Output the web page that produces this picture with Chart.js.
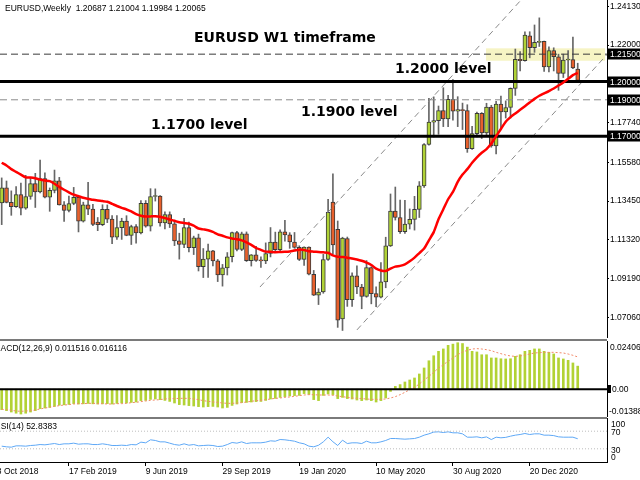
<!DOCTYPE html>
<html>
<head>
<meta charset="utf-8">
<title>EURUSD W1</title>
<script src="https://cdn.jsdelivr.net/npm/chart.js@4.4.1/dist/chart.umd.min.js"></script>
<style>
  html, body { margin: 0; padding: 0; background: #fff; }
  #wrap { position: relative; width: 640px; height: 480px; overflow: hidden; }
  #wrap canvas { position: absolute; left: 0; }
  #c-main { top: 0; }
  #c-macd { top: 341px; }
  #c-rsi  { top: 418px; }
  .sep { position: absolute; left: 0; width: 607px; height: 2px; background: #7a7a7a; }
</style>
</head>
<body>
<div id="wrap">
  <canvas id="c-main" width="640" height="338"></canvas>
  <canvas id="c-macd" width="640" height="76"></canvas>
  <canvas id="c-rsi" width="640" height="62"></canvas>
  <div class="sep" style="top:339px"></div>
  <div class="sep" style="top:417px"></div>
</div>
<script>
'use strict';

// ── Weekly candles, 11 Nov 2018 .. 28 Feb 2021 (bar index 0..120) ──
const OPEN = [
  1.1335, 1.1417, 1.1338, 1.1314, 1.1380, 1.1306, 1.1370, 1.1441, 1.1395, 1.1468,
  1.1366, 1.1404, 1.1456, 1.1324, 1.1294, 1.1332, 1.1365, 1.1235, 1.1325, 1.1301,
  1.1230, 1.1216, 1.1300, 1.1246, 1.1147, 1.1200, 1.1235, 1.1157, 1.1205, 1.1170,
  1.1333, 1.1208, 1.1370, 1.1372, 1.1225, 1.1271, 1.1220, 1.1127, 1.1108, 1.1200,
  1.1090, 1.1143, 1.0985, 1.1027, 1.1073, 1.1017, 1.0940, 1.0979, 1.1040, 1.1172,
  1.1080, 1.1165, 1.1018, 1.1051, 1.1020, 1.1017, 1.1058, 1.1121, 1.1079, 1.1176,
  1.1160, 1.1121, 1.1091, 1.1025, 1.1093, 1.0944, 1.0830, 1.0847, 1.1025, 1.1340,
  1.1190, 1.0700, 1.1140, 1.0805, 1.0935, 1.0874, 1.0822, 1.0980, 1.0838, 1.0818,
  1.0902, 1.1100, 1.1290, 1.1255, 1.1177, 1.1219, 1.1245, 1.1300, 1.1428, 1.1655,
  1.1778, 1.1786, 1.1841, 1.1795, 1.1903, 1.1838, 1.1846, 1.1841, 1.1632, 1.1715,
  1.1826, 1.1718, 1.1860, 1.1647, 1.1876, 1.1834, 1.1858, 1.1963, 1.2122, 1.2114,
  1.2250, 1.2185, 1.2215, 1.2220, 1.2080, 1.2170, 1.2136, 1.2045, 1.2118, 1.2120,
  1.20687
];
const HIGH = [
  1.1472, 1.1455, 1.1401, 1.1425, 1.1443, 1.1486, 1.1474, 1.1497, 1.1570, 1.1500,
  1.1417, 1.1515, 1.1475, 1.1342, 1.1372, 1.1420, 1.1375, 1.1339, 1.1448, 1.1327,
  1.1255, 1.1325, 1.1324, 1.1265, 1.1265, 1.1251, 1.1265, 1.1213, 1.1216, 1.1348,
  1.1348, 1.1413, 1.1412, 1.1375, 1.1286, 1.1286, 1.1240, 1.1169, 1.1250, 1.1230,
  1.1153, 1.1164, 1.1085, 1.1109, 1.1075, 1.1025, 1.0998, 1.1063, 1.1175, 1.1179,
  1.1175, 1.1176, 1.1052, 1.1097, 1.1039, 1.1116, 1.1200, 1.1175, 1.1188, 1.1239,
  1.1172, 1.1173, 1.1100, 1.1095, 1.1095, 1.0965, 1.0865, 1.1053, 1.1354, 1.1495,
  1.1236, 1.1147, 1.1148, 1.0952, 1.0990, 1.0889, 1.1019, 1.0985, 1.0875, 1.1008,
  1.1147, 1.1384, 1.1422, 1.1350, 1.1349, 1.1302, 1.1371, 1.1452, 1.1660, 1.1908,
  1.1916, 1.1866, 1.1966, 1.1925, 1.2011, 1.1917, 1.1882, 1.1873, 1.1755, 1.1832,
  1.1830, 1.1881, 1.1870, 1.1891, 1.1920, 1.1894, 1.1965, 1.2178, 1.2164, 1.2273,
  1.2273, 1.2310, 1.2349, 1.2222, 1.2190, 1.2185, 1.2150, 1.2150, 1.2170, 1.2243,
  1.21004
];
const LOW = [
  1.1216, 1.1335, 1.1267, 1.1310, 1.1269, 1.1300, 1.1355, 1.1310, 1.1390, 1.1362,
  1.1289, 1.1390, 1.1323, 1.1234, 1.1285, 1.1325, 1.1176, 1.1230, 1.1270, 1.1210,
  1.1183, 1.1210, 1.1227, 1.1111, 1.1135, 1.1135, 1.1155, 1.1107, 1.1115, 1.1165,
  1.1202, 1.1181, 1.1345, 1.1207, 1.1193, 1.1200, 1.1101, 1.1027, 1.1090, 1.1066,
  1.1052, 1.0962, 1.0926, 1.0927, 1.0990, 1.0904, 1.0879, 1.0940, 1.1012, 1.1072,
  1.1073, 1.1014, 1.0989, 1.1014, 1.0981, 1.1002, 1.1039, 1.1065, 1.1066, 1.1125,
  1.1086, 1.1087, 1.1019, 1.0992, 1.0941, 1.0827, 1.0778, 1.0840, 1.1020, 1.1055,
  1.0653, 1.0636, 1.0768, 1.0768, 1.0838, 1.0755, 1.0818, 1.0782, 1.0766, 1.0814,
  1.0870, 1.1096, 1.1241, 1.1168, 1.1168, 1.1192, 1.1186, 1.1255, 1.1420, 1.1652,
  1.1696, 1.1711, 1.1753, 1.1753, 1.1789, 1.1753, 1.1737, 1.1612, 1.1628, 1.1696,
  1.1688, 1.1703, 1.1640, 1.1603, 1.1745, 1.1800, 1.1800, 1.1924, 1.2058, 1.2112,
  1.2130, 1.2160, 1.2192, 1.2055, 1.2053, 1.2058, 1.1952, 1.2022, 1.2023, 1.2070,
  1.19984
];
const CLOSE = [
  1.1417, 1.1338, 1.1314, 1.1380, 1.1306, 1.1370, 1.1441, 1.1395, 1.1468, 1.1366,
  1.1404, 1.1456, 1.1324, 1.1294, 1.1332, 1.1365, 1.1235, 1.1325, 1.1301, 1.1217,
  1.1216, 1.1300, 1.1246, 1.1147, 1.1200, 1.1235, 1.1157, 1.1205, 1.1170, 1.1333,
  1.1208, 1.1370, 1.1372, 1.1225, 1.1271, 1.1220, 1.1127, 1.1108, 1.1200, 1.1090,
  1.1143, 1.0985, 1.1027, 1.1073, 1.1017, 1.0940, 1.0979, 1.1040, 1.1172, 1.1080,
  1.1165, 1.1018, 1.1051, 1.1020, 1.1017, 1.1058, 1.1121, 1.1079, 1.1176, 1.1160,
  1.1121, 1.1091, 1.1025, 1.1093, 1.0944, 1.0830, 1.0847, 1.1025, 1.1284, 1.1105,
  1.0692, 1.1142, 1.0805, 1.0935, 1.0874, 1.0822, 1.0980, 1.0838, 1.0818, 1.0902,
  1.1100, 1.1290, 1.1255, 1.1177, 1.1219, 1.1245, 1.1300, 1.1428, 1.1655, 1.1778,
  1.1786, 1.1841, 1.1795, 1.1903, 1.1838, 1.1846, 1.1841, 1.1632, 1.1715, 1.1826,
  1.1718, 1.1860, 1.1647, 1.1876, 1.1834, 1.1858, 1.1963, 1.2122, 1.2114, 1.2255,
  1.2185, 1.2215, 1.2220, 1.2080, 1.2170, 1.2136, 1.2045, 1.2118, 1.2120, 1.2075,
  1.20065
];
// red moving average
const MA = [
  1.1555, 1.1540, 1.1520, 1.1505, 1.1490, 1.1475, 1.1474, 1.1470, 1.1463, 1.1458,
  1.1454, 1.1440, 1.1423, 1.1407, 1.1393, 1.1380, 1.1372, 1.1363, 1.1358, 1.1352,
  1.1348, 1.1345, 1.1341, 1.1330, 1.1318, 1.1308, 1.1299, 1.1288, 1.1273, 1.1265,
  1.1260, 1.1261, 1.1262, 1.1259, 1.1252, 1.1244, 1.1237, 1.1229, 1.1225, 1.1221,
  1.1210, 1.1195, 1.1190, 1.1185, 1.1176, 1.1163, 1.1155, 1.1146, 1.1140, 1.1136,
  1.1130, 1.1119, 1.1105, 1.1088, 1.1078, 1.1068, 1.1067, 1.1065, 1.1066, 1.1067,
  1.1069, 1.1074, 1.1079, 1.1077, 1.1070, 1.1068, 1.1066, 1.1064, 1.1062, 1.1047,
  1.1040, 1.1038, 1.1035, 1.1030, 1.1025, 1.1018, 1.1008, 1.0995, 1.0975, 1.0965,
  1.0962, 1.0975, 1.0986, 1.0990, 1.0998, 1.1015, 1.1035, 1.1060, 1.1085, 1.1130,
  1.1175, 1.1245, 1.1300, 1.1355, 1.1395, 1.1450, 1.1490, 1.1520, 1.1555, 1.1585,
  1.1610, 1.1630, 1.1660, 1.1700, 1.1740, 1.1780, 1.1805, 1.1825, 1.1845, 1.1865,
  1.1885, 1.1905, 1.1922, 1.1935, 1.1948, 1.1962, 1.1978, 1.1995, 1.2015, 1.2035,
  1.2048
];

// ── MACD(12,26,9) panel ─────
const MACD = [
  -0.0102, -0.0107, -0.0114, -0.0120, -0.0124, -0.0120, -0.0114, -0.0107, -0.0097, -0.0094,
  -0.0091, -0.0086, -0.0080, -0.0078, -0.0076, -0.0072, -0.0074, -0.0073, -0.0071, -0.0073,
  -0.0074, -0.0073, -0.0072, -0.0074, -0.0071, -0.0069, -0.0069, -0.0066, -0.0064, -0.0057,
  -0.0056, -0.0051, -0.0049, -0.0052, -0.0056, -0.0061, -0.0069, -0.0077, -0.0079, -0.0082,
  -0.0084, -0.0087, -0.0089, -0.0087, -0.0086, -0.0089, -0.0094, -0.0091, -0.0081, -0.0074,
  -0.0067, -0.0066, -0.0064, -0.0062, -0.0061, -0.0056, -0.0049, -0.0046, -0.0041, -0.0037,
  -0.0034, -0.0032, -0.0031, -0.0022, -0.0026, -0.0052, -0.0057, -0.0031, -0.0024, -0.0027,
  -0.0047, -0.0041, -0.0047, -0.0049, -0.0054, -0.0057, -0.0054, -0.0057, -0.0064, -0.0057,
  -0.0044, -0.0011, 0.0014, 0.0023, 0.0036, 0.0046, 0.0056, 0.0076, 0.0106, 0.0142,
  0.0167, 0.0189, 0.0201, 0.0219, 0.0225, 0.0232, 0.0228, 0.0210, 0.0189, 0.0186,
  0.0172, 0.0172, 0.0156, 0.0156, 0.0152, 0.0151, 0.0152, 0.0164, 0.0172, 0.0189,
  0.0194, 0.0201, 0.0201, 0.0189, 0.0184, 0.0176, 0.0156, 0.0151, 0.0144, 0.0131,
  0.011516
];
const SIGNAL = [
  -0.01005, -0.01022, -0.01055, -0.01088, -0.01105, -0.01088, -0.01072, -0.01038, -0.00988, -0.00938,
  -0.00905, -0.00855, -0.00822, -0.00789, -0.00772, -0.00739, -0.00722, -0.00722, -0.00705, -0.00705,
  -0.00722, -0.00722, -0.00739, -0.00739, -0.00722, -0.00722, -0.00705, -0.00672, -0.00656, -0.00622,
  -0.00589, -0.00556, -0.00539, -0.00522, -0.00489, -0.00472, -0.00472, -0.00456, -0.00456, -0.00456,
  -0.00489, -0.00522, -0.00572, -0.00606, -0.00639, -0.00656, -0.00689, -0.00705, -0.00705, -0.00689,
  -0.00672, -0.00639, -0.00606, -0.00572, -0.00556, -0.00522, -0.00489, -0.00456, -0.00439, -0.00406,
  -0.00389, -0.00356, -0.00323, -0.00290, -0.00273, -0.00273, -0.00290, -0.00290, -0.00290, -0.00306,
  -0.00340, -0.00373, -0.00406, -0.00439, -0.00456, -0.00472, -0.00489, -0.00506, -0.00506, -0.00506,
  -0.00489, -0.00439, -0.00373, -0.00273, -0.00156, -0.00024, 0.00093, 0.00260, 0.00459, 0.00642,
  0.00842, 0.01058, 0.01225, 0.01391, 0.01558, 0.01724, 0.01857, 0.01940, 0.02007, 0.02024,
  0.02007, 0.01974, 0.01924, 0.01840, 0.01774, 0.01707, 0.01657, 0.01641, 0.01657, 0.01707,
  0.01757, 0.01807, 0.01824, 0.01840, 0.01840, 0.01840, 0.01824, 0.01807, 0.01757, 0.01691,
  0.016116
];
const MACD_MAX = 0.02406;
const MACD_MIN = -0.01388;

// ── RSI(14) panel ─────
const RSI = [
  36, 34.5, 33.7, 36.7, 36.7, 36, 37.5, 38.2, 39.7, 39,
  40.5, 42, 39.7, 41.3, 41.3, 42.8, 40.5, 41.3, 41.3, 39.7,
  39.7, 41.3, 39.7, 37.5, 37.5, 38.2, 37.5, 39.7, 39, 45.1,
  43.6, 50.4, 48.9, 45.8, 45.8, 42.8, 39.7, 38.2, 41.3, 38.2,
  39.7, 36.7, 37.5, 38.2, 37.5, 35.2, 36, 39.7, 44.3, 42.8,
  45.8, 42, 43.6, 43.6, 43.6, 45.1, 48.1, 47.3, 51.1, 50.4,
  48.9, 47.3, 43.6, 41.3, 36, 34.5, 38, 45.8, 56.4, 46,
  37.5, 49.6, 42, 43.6, 43.6, 42, 47.3, 43.6, 43.6, 45.8,
  48.9, 53.4, 53.4, 52.6, 51.9, 52.6, 53.4, 56.4, 61, 64,
  68, 68.6, 67, 68.6, 66.3, 66.3, 64, 56.4, 56.4, 57.2,
  55, 57, 51, 56.4, 55, 56, 58.7, 61, 62.5, 64.8,
  62.5, 64, 64, 61, 61, 60, 57.2, 56.4, 56.4, 56.4,
  52.8383
];
const RSI_LEVELS = [70, 30];

// ── Axis ticks / annotations ─────
const PRICE_TICKS = [1.2413, 1.2200, 1.1774, 1.1558, 1.1345, 1.1132, 1.0919, 1.0706];
const PRICE_MIN = 1.05948;
const PRICE_MAX = 1.24468;
const DATE_IDX    = [-2, 14, 30, 46, 62, 78, 94, 110];
const DATE_LABELS = ['28 Oct 2018', '17 Feb 2019', '9 Jun 2019', '29 Sep 2019',
                     '19 Jan 2020', '10 May 2020', '30 Aug 2020', '20 Dec 2020'];
const LEVELS = [1.2150, 1.2000, 1.1900, 1.1700];
const CHANNEL_UPPER_IDX   = [53.8, 108.2];
const CHANNEL_UPPER_PRICE = [1.0874, 1.2447];
const CHANNEL_LOWER_IDX   = [74.0, 126.1];
const CHANNEL_LOWER_PRICE = [1.0639, 1.2148];
const ZONE_FROM = 100.9;
const ZONE_LO = 1.2114;
const ZONE_HI = 1.2182;

const X_MIN = -0.354;
const X_MAX = 126.1;

// ── Look ─────
const BULL = '#b0d236';
const BEAR = '#e8602c';
const FONT = '"Liberation Sans", Arial, sans-serif';
const BOLD = 'bold 14px "DejaVu Sans", sans-serif';

Chart.defaults.font.family = FONT;
Chart.defaults.font.size = 8.5;
Chart.defaults.color = '#000';

const idx = CLOSE.map((_, i) => i);
const last = CLOSE.length - 1;
const hline = (v) => [{ x: X_MIN, y: v }, { x: X_MAX, y: v }];
const pts = (xs, ys) => xs.map((x, k) => ({ x, y: ys[k] }));

function rightAxis(extra) {
  return Object.assign({
    position: 'right',
    afterFit: (s) => { s.width = 33; s.paddingTop = 0; s.paddingBottom = 0; },
    ticks: { display: false },
    grid: { display: false },
    border: { display: true, color: '#000', width: 1 }
  }, extra);
}
const hiddenX = { type: 'linear', min: X_MIN, max: X_MAX, offset: false, display: false };
const baseOpts = {
  responsive: false,
  animation: false,
  events: [],
  layout: { padding: 0 },
  plugins: { legend: { display: false }, tooltip: { enabled: false } }
};

// ── Main price panel ─────
const mainDecor = {
  id: 'mainDecor',
  beforeDatasetsDraw(chart) {
    const { ctx, chartArea, scales: { x, y } } = chart;
    const x0 = x.getPixelForValue(ZONE_FROM);
    const y0 = y.getPixelForValue(ZONE_HI);
    const y1 = y.getPixelForValue(ZONE_LO);
    ctx.save();
    ctx.fillStyle = '#f6f4c4';
    ctx.fillRect(x0, y0, chartArea.right - 2 - x0, y1 - y0);
    ctx.restore();
  },
  afterDatasetsDraw(chart) {
    const { ctx } = chart;
    ctx.save();
    ctx.fillStyle = '#000';
    ctx.textBaseline = 'alphabetic';
    ctx.font = BOLD;
    ctx.fillText('EURUSD W1 timeframe', 194, 42);
    ctx.fillText('1.2000 level', 395, 73);
    ctx.fillText('1.1900 level', 301, 116);
    ctx.fillText('1.1700 level', 151, 129);
    ctx.font = '8.5px ' + FONT;
    ctx.textBaseline = 'middle';
    ctx.fillText('EURUSD,Weekly  ' + [OPEN[last], HIGH[last], LOW[last], CLOSE[last]]
      .map(v => v.toFixed(5)).join(' '), 5, 8.5);
    ctx.restore();
  },
  afterDraw(chart) {
    const { ctx, chartArea, scales: { y } } = chart;
    ctx.save();
    ctx.font = '8.5px ' + FONT;
    ctx.textBaseline = 'middle';
    LEVELS.forEach(v => {
      const py = Math.round(y.getPixelForValue(v));
      ctx.fillStyle = '#000';
      ctx.fillRect(chartArea.right, py - 5.5, 33, 11);
      ctx.fillStyle = '#fff';
      ctx.fillText(v.toFixed(5), chartArea.right + 3, py + 0.5);
    });
    ctx.restore();
  }
};

const levelStyles = [
  { borderColor: '#3a3a3a', borderWidth: 1, borderDash: [7, 4] },
  { borderColor: '#000',    borderWidth: 3 },
  { borderColor: '#8c8c8c', borderWidth: 1, borderDash: [7, 4] },
  { borderColor: '#000',    borderWidth: 3 }
];

new Chart(document.getElementById('c-main'), {
  type: 'bar',
  data: {
    datasets: [
      {
        label: 'wick',
        data: idx.map(i => ({ x: i, y: [LOW[i], HIGH[i]] })),
        backgroundColor: '#666',
        barThickness: 1,
        grouped: false,
        order: 10
      },
      {
        label: 'body',
        data: idx.map(i => ({ x: i, y: [OPEN[i], CLOSE[i]] })),
        backgroundColor: idx.map(i => CLOSE[i] >= OPEN[i] ? BULL : BEAR),
        borderColor: '#3a3a3a',
        borderWidth: 1,
        borderSkipped: false,
        barThickness: 4,
        minBarLength: 1,
        grouped: false,
        order: 9
      },
      ...LEVELS.map((v, k) => Object.assign({
        type: 'line', label: 'level ' + v, data: hline(v), pointRadius: 0, order: 5
      }, levelStyles[k])),
      {
        type: 'line', label: 'channel up',
        data: pts(CHANNEL_UPPER_IDX, CHANNEL_UPPER_PRICE),
        borderColor: '#8a8a8a', borderWidth: 1, borderDash: [6, 4], pointRadius: 0, order: 6
      },
      {
        type: 'line', label: 'channel down',
        data: pts(CHANNEL_LOWER_IDX, CHANNEL_LOWER_PRICE),
        borderColor: '#8a8a8a', borderWidth: 1, borderDash: [6, 4], pointRadius: 0, order: 6
      },
      {
        type: 'line', label: 'MA',
        data: MA.map((v, i) => ({ x: i, y: v })),
        borderColor: '#ff0000', borderWidth: 2.5, pointRadius: 0, tension: 0.2, order: 1
      }
    ]
  },
  options: Object.assign({}, baseOpts, {
    scales: {
      x: hiddenX,
      y: rightAxis({
        min: PRICE_MIN,
        max: PRICE_MAX,
        afterBuildTicks: (s) => { s.ticks = PRICE_TICKS.map(v => ({ value: v })); },
        ticks: { display: true, autoSkip: false, padding: 1, callback: (v) => Number(v).toFixed(5) },
        grid: { display: true, drawOnChartArea: false, drawTicks: true, tickLength: 2, color: '#000' }
      })
    }
  }),
  plugins: [mainDecor]
});

// ── MACD panel ─────
const macdDecor = {
  id: 'macdDecor',
  afterDraw(chart) {
    const { ctx, chartArea, scales: { y } } = chart;
    const z = Math.round(y.getPixelForValue(0));
    ctx.save();
    ctx.font = '8.5px ' + FONT;
    ctx.fillStyle = '#000';
    ctx.textBaseline = 'middle';
    ctx.fillText('MACD(12,26,9) ' + MACD[last].toFixed(6) + ' ' + SIGNAL[last].toFixed(6), -6.5, 8);
    ctx.fillText(MACD_MAX.toFixed(5), chartArea.right + 3, chartArea.top + 6.5);
    ctx.fillText(MACD_MIN.toFixed(5), chartArea.right + 2, chartArea.bottom - 5);
    ctx.fillRect(chartArea.right, z - 4, 4, 8);
    ctx.fillText('0.00', chartArea.right + 5, z + 0.5);
    ctx.restore();
  }
};

new Chart(document.getElementById('c-macd'), {
  type: 'bar',
  data: {
    datasets: [
      {
        type: 'line', label: 'zero', data: hline(0),
        borderColor: '#000', borderWidth: 2, pointRadius: 0, order: 1
      },
      {
        type: 'line', label: 'signal',
        data: SIGNAL.map((v, i) => ({ x: i, y: v })),
        borderColor: '#f28a6a', borderWidth: 1, borderDash: [2, 2], pointRadius: 0, order: 2
      },
      {
        label: 'MACD',
        data: MACD.map((v, i) => ({ x: i, y: v })),
        backgroundColor: '#b2d234',
        barThickness: 2,
        grouped: false,
        order: 3
      }
    ]
  },
  options: Object.assign({}, baseOpts, {
    scales: { x: hiddenX, y: rightAxis({ min: MACD_MIN, max: MACD_MAX }) }
  }),
  plugins: [macdDecor]
});

// ── RSI panel + date axis ─────
const rsiDecor = {
  id: 'rsiDecor',
  afterDraw(chart) {
    const { ctx, chartArea, scales: { y } } = chart;
    ctx.save();
    ctx.font = '8.5px ' + FONT;
    ctx.fillStyle = '#000';
    ctx.textBaseline = 'middle';
    ctx.fillText('RSI(14) ' + RSI[last].toFixed(4), -5.5, 9);
    const lx = chartArea.right + 4;
    ctx.fillText('100', lx, chartArea.top + 7);
    RSI_LEVELS.forEach(v => ctx.fillText(String(v), lx, y.getPixelForValue(v) + 1.5));
    ctx.fillText('0', lx, chartArea.bottom - 4.5);
    ctx.restore();
  }
};

new Chart(document.getElementById('c-rsi'), {
  type: 'line',
  data: {
    datasets: [
      ...RSI_LEVELS.map(v => ({
        label: 'level ' + v, data: hline(v),
        borderColor: '#bdbdbd', borderWidth: 1, borderDash: [1, 2], pointRadius: 0
      })),
      {
        label: 'RSI',
        data: RSI.map((v, i) => ({ x: i, y: v })),
        borderColor: '#5ea8f6', borderWidth: 1, pointRadius: 0, tension: 0
      }
    ]
  },
  options: Object.assign({}, baseOpts, {
    scales: {
      x: {
        type: 'linear', min: X_MIN, max: X_MAX, offset: false,
        afterBuildTicks: (s) => { s.ticks = DATE_IDX.map(v => ({ value: v })); },
        afterFit: (s) => { s.height = 18; s.paddingLeft = 0; s.paddingRight = 0; },
        ticks: {
          autoSkip: false, maxRotation: 0, minRotation: 0, align: 'start', padding: 1,
          callback: (v, i) => DATE_LABELS[i]
        },
        grid: { drawOnChartArea: false, drawTicks: true, tickLength: 4, color: '#000' },
        border: { display: true, color: '#000' }
      },
      y: rightAxis({ min: 0, max: 100 })
    }
  }),
  plugins: [rsiDecor]
});
</script>
</body>
</html>
